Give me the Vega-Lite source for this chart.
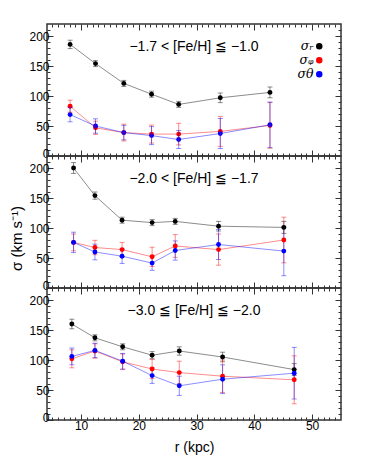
{
  "$schema": "https://vega.github.io/schema/vega-lite/v6.json",
  "padding": {"left": 8, "top": 22, "right": 5, "bottom": 5},
  "spacing": 0,
  "bounds": "flush",
  "data": {"values": [
    {"p": 1, "s": "r", "r": 8.1, "v": 186, "e": 7},
    {"p": 1, "s": "r", "r": 12.5, "v": 154, "e": 5},
    {"p": 1, "s": "r", "r": 17.4, "v": 121, "e": 5},
    {"p": 1, "s": "r", "r": 22.2, "v": 103, "e": 5},
    {"p": 1, "s": "r", "r": 26.9, "v": 86, "e": 5},
    {"p": 1, "s": "r", "r": 34.1, "v": 97, "e": 8},
    {"p": 1, "s": "r", "r": 42.7, "v": 106, "e": 9},
    {"p": 1, "s": "phi", "r": 8.1, "v": 83, "e": 10},
    {"p": 1, "s": "phi", "r": 12.5, "v": 47, "e": 11},
    {"p": 1, "s": "phi", "r": 17.4, "v": 39, "e": 14},
    {"p": 1, "s": "phi", "r": 22.2, "v": 36.5, "e": 15},
    {"p": 1, "s": "phi", "r": 26.9, "v": 36.5, "e": 18},
    {"p": 1, "s": "phi", "r": 34.1, "v": 41, "e": 25},
    {"p": 1, "s": "phi", "r": 42.7, "v": 51, "e": 38},
    {"p": 1, "s": "theta", "r": 8.1, "v": 69, "e": 12},
    {"p": 1, "s": "theta", "r": 12.5, "v": 50, "e": 12},
    {"p": 1, "s": "theta", "r": 17.4, "v": 39, "e": 12},
    {"p": 1, "s": "theta", "r": 22.2, "v": 34, "e": 15},
    {"p": 1, "s": "theta", "r": 26.9, "v": 27.5, "e": 15},
    {"p": 1, "s": "theta", "r": 34.1, "v": 37.5, "e": 25},
    {"p": 1, "s": "theta", "r": 42.7, "v": 52, "e": 38},
    {"p": 2, "s": "r", "r": 8.7, "v": 200, "e": 9},
    {"p": 2, "s": "r", "r": 12.4, "v": 154, "e": 6},
    {"p": 2, "s": "r", "r": 17.1, "v": 113, "e": 5},
    {"p": 2, "s": "r", "r": 22.3, "v": 109, "e": 5},
    {"p": 2, "s": "r", "r": 26.3, "v": 111, "e": 5},
    {"p": 2, "s": "r", "r": 33.8, "v": 103, "e": 8},
    {"p": 2, "s": "r", "r": 45.1, "v": 101, "e": 10},
    {"p": 2, "s": "phi", "r": 8.7, "v": 76, "e": 14},
    {"p": 2, "s": "phi", "r": 12.4, "v": 67.5, "e": 12},
    {"p": 2, "s": "phi", "r": 17.1, "v": 64, "e": 12},
    {"p": 2, "s": "phi", "r": 22.3, "v": 52, "e": 16},
    {"p": 2, "s": "phi", "r": 26.3, "v": 70, "e": 19},
    {"p": 2, "s": "phi", "r": 33.8, "v": 64, "e": 26},
    {"p": 2, "s": "phi", "r": 45.1, "v": 80, "e": 38},
    {"p": 2, "s": "theta", "r": 8.7, "v": 76, "e": 17},
    {"p": 2, "s": "theta", "r": 12.4, "v": 60, "e": 13},
    {"p": 2, "s": "theta", "r": 17.1, "v": 53, "e": 12},
    {"p": 2, "s": "theta", "r": 22.3, "v": 41.5, "e": 12},
    {"p": 2, "s": "theta", "r": 26.3, "v": 62.5, "e": 16},
    {"p": 2, "s": "theta", "r": 33.8, "v": 72.5, "e": 25},
    {"p": 2, "s": "theta", "r": 45.1, "v": 61.5, "e": 41},
    {"p": 3, "s": "r", "r": 8.4, "v": 160, "e": 8},
    {"p": 3, "s": "r", "r": 12.4, "v": 137, "e": 5},
    {"p": 3, "s": "r", "r": 17.2, "v": 122, "e": 5},
    {"p": 3, "s": "r", "r": 22.3, "v": 108, "e": 6},
    {"p": 3, "s": "r", "r": 27.0, "v": 115, "e": 7},
    {"p": 3, "s": "r", "r": 34.5, "v": 105, "e": 8},
    {"p": 3, "s": "r", "r": 46.9, "v": 84, "e": 10},
    {"p": 3, "s": "phi", "r": 8.4, "v": 102, "e": 15},
    {"p": 3, "s": "phi", "r": 12.4, "v": 115, "e": 12},
    {"p": 3, "s": "phi", "r": 17.2, "v": 97, "e": 13},
    {"p": 3, "s": "phi", "r": 22.3, "v": 85, "e": 16},
    {"p": 3, "s": "phi", "r": 27.0, "v": 79, "e": 19},
    {"p": 3, "s": "phi", "r": 34.5, "v": 73, "e": 27},
    {"p": 3, "s": "phi", "r": 46.9, "v": 67, "e": 40},
    {"p": 3, "s": "theta", "r": 8.4, "v": 106, "e": 14},
    {"p": 3, "s": "theta", "r": 12.4, "v": 116, "e": 12},
    {"p": 3, "s": "theta", "r": 17.2, "v": 98, "e": 13},
    {"p": 3, "s": "theta", "r": 22.3, "v": 74, "e": 13},
    {"p": 3, "s": "theta", "r": 27.0, "v": 57, "e": 16},
    {"p": 3, "s": "theta", "r": 34.5, "v": 68, "e": 24},
    {"p": 3, "s": "theta", "r": 46.9, "v": 78, "e": 43}
  ]},
  "resolve": {"scale": {"color": "independent"}, "legend": {"color": "independent"}},
  "vconcat": [
    {
      "width": 294, "height": 132,
      "title": {"text": "−1.7 < [Fe/H] ≦ −1.0"},
      "transform": [{"filter": "datum.p === 1"}],
      "resolve": {"axis": {"x": "independent", "y": "independent"}},
      "layer": [
        {"mark": {"type": "point", "filled": true, "size": 24, "opacity": 1},
         "encoding": {
           "x": {"field": "r", "type": "quantitative", "scale": {"domain": [4.1, 55], "nice": false, "zero": false},
                 "axis": {"orient": "top", "values": [5,6,7,8,9,10,11,12,13,14,15,16,17,18,19,20,21,22,23,24,25,26,27,28,29,30,31,32,33,34,35,36,37,38,39,40,41,42,43,44,45,46,47,48,49,50,51,52,53,54], "labels": false, "title": null,
                          "tickSize": {"condition": {"test": "datum.value % 10 === 0", "value": -6}, "value": -3}}},
           "y": {"field": "v", "type": "quantitative", "scale": {"domain": [0, 220], "nice": false},
                 "axis": {"orient": "right", "values": [10,20,30,40,50,60,70,80,90,100,110,120,130,140,150,160,170,180,190,200,210], "labels": false, "title": null,
                          "tickSize": {"condition": {"test": "datum.value % 50 === 0", "value": -6}, "value": -3}}},
           "color": {"field": "s", "type": "nominal", "scale": {"domain": ["r", "phi", "theta"], "range": ["black", "red", "blue"]},
                     "legend": {"title": null, "orient": "top-right", "offset": 16, "padding": 0, "rowPadding": 1,
                                "labelAlign": "right", "labelOffset": -12, "symbolType": "circle", "symbolSize": 25,
                                "labelFont": "DejaVu Serif", "labelFontStyle": "italic", "labelFontSize": 12.5, "labelColor": "black",
                                "labelExpr": "datum.value === 'r' ? 'σᵣ' : datum.value === 'phi' ? 'σᵩ' : 'σθ'"}}
         }},
        {"mark": {"type": "line", "strokeWidth": 1, "opacity": 0.45},
         "encoding": {
           "x": {"field": "r", "type": "quantitative",
                 "axis": {"orient": "bottom", "values": [5,6,7,8,9,10,11,12,13,14,15,16,17,18,19,20,21,22,23,24,25,26,27,28,29,30,31,32,33,34,35,36,37,38,39,40,41,42,43,44,45,46,47,48,49,50,51,52,53,54], "labels": false, "title": null,
                          "tickSize": {"condition": {"test": "datum.value % 10 === 0", "value": -6}, "value": -3}}},
           "y": {"field": "v", "type": "quantitative",
                 "axis": {"orient": "left", "values": [0,10,20,30,40,50,60,70,80,90,100,110,120,130,140,150,160,170,180,190,200,210], "labelExpr": "datum.value % 50 === 0 ? datum.label : ''", "labelOverlap": false, "labelFlush": false,
                          "labelOffset": {"condition": {"test": "datum.value === 0", "value": -3}, "value": 0}, "title": null,
                          "tickSize": {"condition": {"test": "datum.value % 50 === 0", "value": -6}, "value": -3}}},
           "color": {"field": "s", "type": "nominal"}
         }},
        {"mark": {"type": "errorbar", "ticks": {"size": 5, "opacity": 0.45}, "rule": {"opacity": 0.45}},
         "encoding": {
           "x": {"field": "r", "type": "quantitative", "axis": null},
           "y": {"field": "v", "type": "quantitative", "axis": null},
           "yError": {"field": "e"},
           "color": {"field": "s", "type": "nominal"}
         }}
      ]
    },
    {
      "width": 294, "height": 132,
      "title": {"text": "−2.0 < [Fe/H] ≦ −1.7"},
      "transform": [{"filter": "datum.p === 2"}],
      "resolve": {"axis": {"x": "independent", "y": "independent"}},
      "layer": [
        {"mark": {"type": "line", "strokeWidth": 1, "opacity": 0.45},
         "encoding": {
           "x": {"field": "r", "type": "quantitative", "scale": {"domain": [4.1, 55], "nice": false, "zero": false},
                 "axis": {"orient": "bottom", "values": [5,6,7,8,9,10,11,12,13,14,15,16,17,18,19,20,21,22,23,24,25,26,27,28,29,30,31,32,33,34,35,36,37,38,39,40,41,42,43,44,45,46,47,48,49,50,51,52,53,54], "labels": false, "title": null,
                          "tickSize": {"condition": {"test": "datum.value % 10 === 0", "value": -6}, "value": -3}}},
           "y": {"field": "v", "type": "quantitative", "scale": {"domain": [0, 220], "nice": false},
                 "axis": {"orient": "left", "values": [0,10,20,30,40,50,60,70,80,90,100,110,120,130,140,150,160,170,180,190,200,210], "labelExpr": "datum.value % 50 === 0 ? datum.label : ''", "labelOverlap": false, "labelFlush": false,
                          "labelOffset": {"condition": {"test": "datum.value === 0", "value": -3}, "value": 0},
                          "title": "σ (km s⁻¹)", "titleFontSize": 15, "titleX": -31, "titleY": 82, "titleBaseline": "middle",
                          "tickSize": {"condition": {"test": "datum.value % 50 === 0", "value": -6}, "value": -3}}},
           "color": {"field": "s", "type": "nominal", "scale": {"domain": ["r", "phi", "theta"], "range": ["black", "red", "blue"]}, "legend": null}
         }},
        {"mark": {"type": "errorbar", "ticks": {"size": 5, "opacity": 0.45}, "rule": {"opacity": 0.45}},
         "encoding": {
           "x": {"field": "r", "type": "quantitative", "axis": null},
           "y": {"field": "v", "type": "quantitative", "axis": null},
           "yError": {"field": "e"},
           "color": {"field": "s", "type": "nominal", "legend": null}
         }},
        {"mark": {"type": "point", "filled": true, "size": 24, "opacity": 1},
         "encoding": {
           "x": {"field": "r", "type": "quantitative",
                 "axis": {"orient": "top", "values": [5,6,7,8,9,10,11,12,13,14,15,16,17,18,19,20,21,22,23,24,25,26,27,28,29,30,31,32,33,34,35,36,37,38,39,40,41,42,43,44,45,46,47,48,49,50,51,52,53,54], "labels": false, "title": null,
                          "tickSize": {"condition": {"test": "datum.value % 10 === 0", "value": -6}, "value": -3}}},
           "y": {"field": "v", "type": "quantitative",
                 "axis": {"orient": "right", "values": [10,20,30,40,50,60,70,80,90,100,110,120,130,140,150,160,170,180,190,200,210], "labels": false, "title": null,
                          "tickSize": {"condition": {"test": "datum.value % 50 === 0", "value": -6}, "value": -3}}},
           "color": {"field": "s", "type": "nominal", "legend": null}
         }}
      ]
    },
    {
      "width": 294, "height": 132,
      "title": {"text": "−3.0 ≦ [Fe/H] ≦ −2.0"},
      "transform": [{"filter": "datum.p === 3"}],
      "resolve": {"axis": {"x": "independent", "y": "independent"}},
      "layer": [
        {"mark": {"type": "line", "strokeWidth": 1, "opacity": 0.45},
         "encoding": {
           "x": {"field": "r", "type": "quantitative", "scale": {"domain": [4.1, 55], "nice": false, "zero": false},
                 "axis": {"orient": "bottom", "values": [5,6,7,8,9,10,11,12,13,14,15,16,17,18,19,20,21,22,23,24,25,26,27,28,29,30,31,32,33,34,35,36,37,38,39,40,41,42,43,44,45,46,47,48,49,50,51,52,53,54],
                          "labelExpr": "datum.value % 10 === 0 ? datum.label : ''", "labelOverlap": false, "labelFlush": false, "labelPadding": 6,
                          "title": "r (kpc)", "titlePadding": 6,
                          "tickSize": {"condition": {"test": "datum.value % 10 === 0", "value": -6}, "value": -3}}},
           "y": {"field": "v", "type": "quantitative", "scale": {"domain": [0, 220], "nice": false},
                 "axis": {"orient": "left", "values": [0,10,20,30,40,50,60,70,80,90,100,110,120,130,140,150,160,170,180,190,200,210], "labelExpr": "datum.value % 50 === 0 ? datum.label : ''", "labelOverlap": false, "labelFlush": false,
                          "labelOffset": {"condition": {"test": "datum.value === 0", "value": -3}, "value": 0}, "title": null,
                          "tickSize": {"condition": {"test": "datum.value % 50 === 0", "value": -6}, "value": -3}}},
           "color": {"field": "s", "type": "nominal", "scale": {"domain": ["r", "phi", "theta"], "range": ["black", "red", "blue"]}, "legend": null}
         }},
        {"mark": {"type": "errorbar", "ticks": {"size": 5, "opacity": 0.45}, "rule": {"opacity": 0.45}},
         "encoding": {
           "x": {"field": "r", "type": "quantitative", "axis": null},
           "y": {"field": "v", "type": "quantitative", "axis": null},
           "yError": {"field": "e"},
           "color": {"field": "s", "type": "nominal", "legend": null}
         }},
        {"mark": {"type": "point", "filled": true, "size": 24, "opacity": 1},
         "encoding": {
           "x": {"field": "r", "type": "quantitative",
                 "axis": {"orient": "top", "values": [5,6,7,8,9,10,11,12,13,14,15,16,17,18,19,20,21,22,23,24,25,26,27,28,29,30,31,32,33,34,35,36,37,38,39,40,41,42,43,44,45,46,47,48,49,50,51,52,53,54], "labels": false, "title": null,
                          "tickSize": {"condition": {"test": "datum.value % 10 === 0", "value": -6}, "value": -3}}},
           "y": {"field": "v", "type": "quantitative",
                 "axis": {"orient": "right", "values": [10,20,30,40,50,60,70,80,90,100,110,120,130,140,150,160,170,180,190,200,210], "labels": false, "title": null,
                          "tickSize": {"condition": {"test": "datum.value % 50 === 0", "value": -6}, "value": -3}}},
           "color": {"field": "s", "type": "nominal", "legend": null}
         }}
      ]
    }
  ],
  "config": {
    "font": "Liberation Sans",
    "view": {"stroke": "#333", "strokeWidth": 1.5},
    "axis": {"domain": false, "grid": false, "labelFont": "Liberation Sans", "labelFontSize": 12, "labelColor": "black",
             "tickColor": "#333", "tickWidth": 1, "labelPadding": 4, "minExtent": 0,
             "titleFont": "Liberation Sans", "titleFontSize": 14, "titleFontWeight": "normal", "titleColor": "black"},
    "title": {"font": "Liberation Sans", "fontSize": 14, "fontWeight": "normal", "color": "black", "anchor": "middle", "offset": -30, "baseline": "middle"}
  }
}
